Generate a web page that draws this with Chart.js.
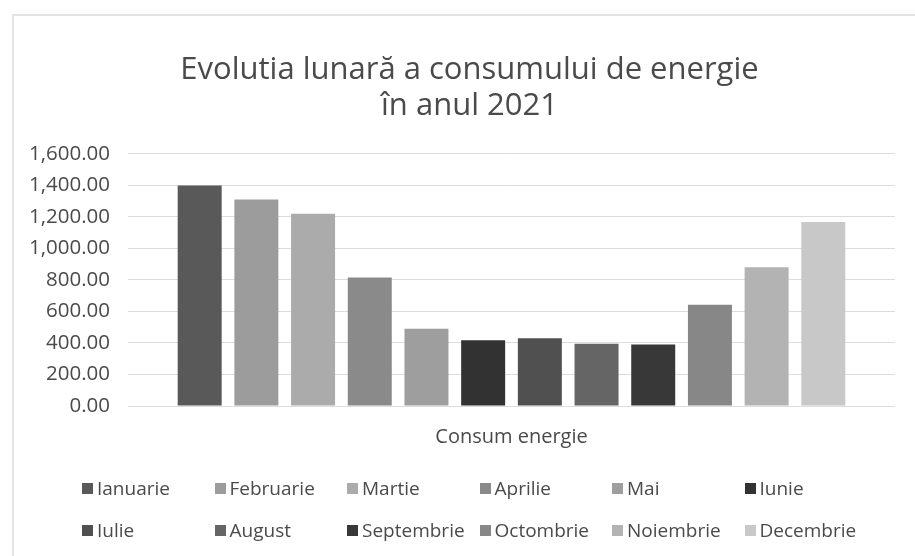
<!DOCTYPE html>
<html>
<head>
<meta charset="utf-8">
<script src="https://cdn.jsdelivr.net/npm/chart.js@4/dist/chart.umd.min.js"></script>
<style>
  html, body { margin: 0; padding: 0; background: #fff; }
  #wrap { position: relative; width: 915px; height: 556px; overflow: hidden; }
  #frame { position: absolute; left: 12px; top: 14px; width: 920px; height: 560px;
           border-left: 2px solid #e4e4e4; border-top: 2px solid #e4e4e4; }
  #legend { position: absolute; left: 82px; top: 475px; display: grid;
            grid-template-columns: repeat(6, 132.5px); row-gap: 16px;
            font-family: "Open Sans", sans-serif; font-size: 19px; color: #4a4a4a; }
  #legend .item { display: flex; align-items: center; height: 26px; white-space: nowrap; }
  #legend .box { width: 11px; height: 11px; margin-right: 4px; flex: none; }
</style>
</head>
<body>
<div id="wrap">
  <div id="frame"></div>
  <canvas id="energie" width="915" height="556"></canvas>
  <div id="legend"></div>
</div>
<script>
// date
const luni = ["Ianuarie", "Februarie", "Martie", "Aprilie", "Mai", "Iunie",
  "Iulie", "August", "Septembrie", "Octombrie", "Noiembrie", "Decembrie"];
const consum = [1400, 1310, 1220, 815, 490, 418, 430, 395, 390, 642, 880, 1168];
const culori = ["#595959", "#9c9c9c", "#ababab", "#8a8a8a", "#9e9e9e", "#323232",
  "#505050", "#656565", "#383838", "#878787", "#b3b3b3", "#c8c8c8"];
const categorii = ["Consum energie"];
const titlu = ["Evolutia lunară a consumului de energie", "în anul 2021"];

const textColor = "#4a4a4a";
const font = "'Open Sans', sans-serif";

let datasets = luni.map((luna, i) => ({
  label: luna,
  data: [consum[i]],
  backgroundColor: culori[i],
  borderWidth: 0,
  categoryPercentage: 0.887,
  barPercentage: 0.776
}));

// titlul din Excel e centrat pe tot cadrul, nu doar pe zona graficului
const shiftTitle = {
  id: "shiftTitle",
  afterLayout(chart) {
    if (chart.titleBlock) {
      chart.titleBlock.left += 22;
      chart.titleBlock.right += 22;
    }
  }
};

let chart = new Chart(document.getElementById("energie"), {
  type: "bar",
  data: { labels: categorii, datasets: datasets },
  plugins: [shiftTitle],
  options: {
    responsive: false,
    animation: false,
    layout: { padding: { left: 0, right: 20, top: 0, bottom: 88 } },
    plugins: {
      legend: { display: false },
      tooltip: { enabled: false },
      title: {
        display: true,
        text: titlu,
        color: textColor,
        font: { family: font, size: 31, weight: "normal", lineHeight: 1.16 },
        padding: { top: 52, bottom: 30 }
      }
    },
    scales: {
      x: {
        grid: { display: false, drawTicks: false },
        border: { display: false },
        ticks: { color: textColor, font: { family: font, size: 20 }, padding: 19 }
      },
      y: {
        min: 0,
        max: 1600,
        afterFit: (scale) => { scale.width = 128; },
        grid: { color: "#dcdcdc", drawTicks: false },
        border: { display: false },
        ticks: {
          stepSize: 200,
          padding: 18,
          color: textColor,
          font: { family: font, size: 20.5 },
          callback: (v) => v.toLocaleString("en-US", { minimumFractionDigits: 2, maximumFractionDigits: 2 })
        }
      }
    }
  }
});

// legenda in coloane egale, ca in Excel
let legend = document.getElementById("legend");
luni.forEach((luna, i) => {
  legend.innerHTML += `<div class="item"><span class="box" style="background:${culori[i]}"></span>${luna}</div>`;
});
</script>
</body>
</html>
